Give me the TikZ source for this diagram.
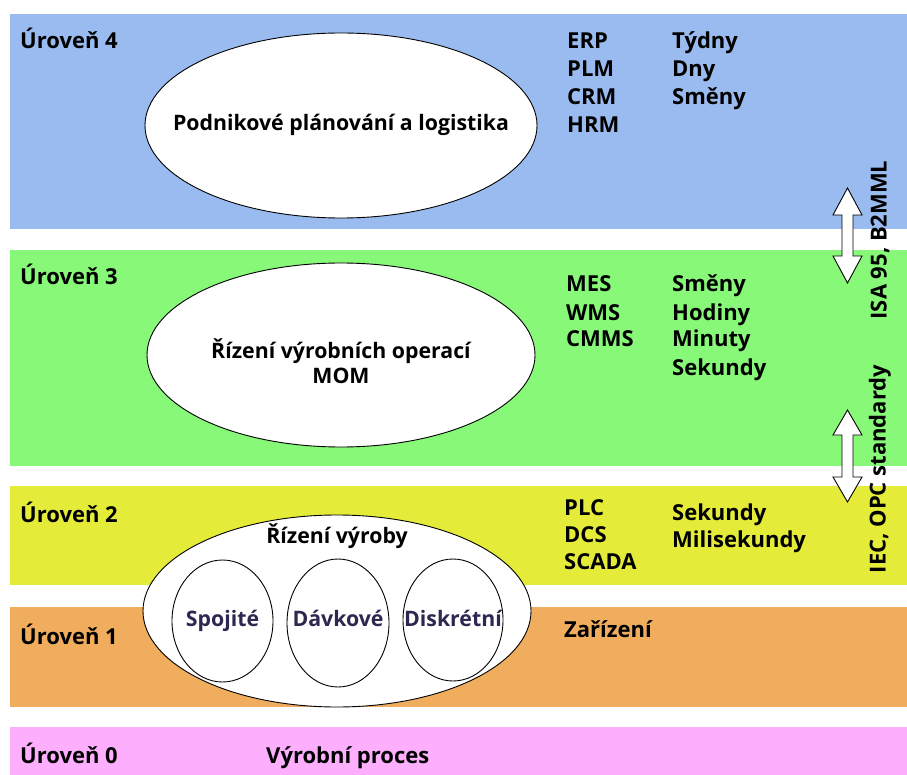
\documentclass[tikz,border=0pt]{standalone}
\usepackage{fontspec}
\setmainfont{Open Sans}
\begin{document}
\definecolor{lvfour}{RGB}{154,187,239}
\definecolor{lvthree}{RGB}{136,248,120}
\definecolor{lvtwo}{RGB}{229,235,57}
\definecolor{lvone}{RGB}{240,173,94}
\definecolor{lvzero}{RGB}{253,174,253}
\definecolor{innertext}{RGB}{46,39,80}
\begin{tikzpicture}[x=1pt,y=-1pt,
  lbl/.style={anchor=base west,inner sep=0pt,font=\bfseries\fontsize{22}{27}\selectfont},
  oval/.style={draw=black,fill=white,line width=0.9pt},
  ovaltext/.style={align=center,inner sep=0pt,font=\bfseries\fontsize{21.3}{25}\selectfont},
  innerlbl/.style={anchor=base,inner sep=0pt,text=innertext,font=\bfseries\fontsize{21.3}{25}\selectfont},
  vlabel/.style={rotate=90,inner sep=0pt,font=\bfseries\fontsize{22}{26}\selectfont},
  blockarrow/.style={draw=black,fill=white,line width=0.9pt,line join=miter}]
\useasboundingbox (0,0) rectangle (907,775);

% level bands
\fill[lvfour]  (10,14)  rectangle (907,229);
\fill[lvthree] (10,250) rectangle (907,466);
\fill[lvtwo]   (10,486) rectangle (907,585);
\fill[lvone]   (10,607) rectangle (907,707);
\fill[lvzero]  (10,727) rectangle (907,775);

% level names
\node[lbl] (u4) at (20,49)  {Úroveň 4};
\node[lbl] (u3) at (20,285) {Úroveň 3};
\node[lbl] (u2) at (20,522) {Úroveň 2};
\node[lbl] (u1) at (20,644) {Úroveň 1};
\node[lbl] (u0) at (20,763) {Úroveň 0};

% level 4
\draw[oval] (341,125.5) ellipse [x radius=196, y radius=92.5];
\node[ovaltext] (plan) at (341,125) {Podnikové plánování a logistika};
\node[lbl] (erp) at (567,49)  {ERP};
\node[lbl] (plm) at (567,77)  {PLM};
\node[lbl] (crm) at (567,105) {CRM};
\node[lbl] (hrm) at (567,133) {HRM};
\node[lbl] (tydny)  at (672,49)  {Týdny};
\node[lbl] (dny)    at (672,77)  {Dny};
\node[lbl] (smeny4) at (672,105) {Směny};

% level 3
\draw[oval] (341,355) ellipse [x radius=194, y radius=92];
\node[ovaltext] (mom) at (341,361) {Řízení výrobních operací\\MOM};
\node[lbl] (mes)  at (566,292) {MES};
\node[lbl] (wms)  at (566,320) {WMS};
\node[lbl] (cmms) at (566,347) {CMMS};
\node[lbl] (smeny3)  at (672,292) {Směny};
\node[lbl] (hodiny)  at (672,320) {Hodiny};
\node[lbl] (minuty)  at (672,347) {Minuty};
\node[lbl] (sek3)    at (672,375) {Sekundy};

% level 2
\node[lbl] (plc)   at (564,515) {PLC};
\node[lbl] (dcs)   at (564,542) {DCS};
\node[lbl] (scada) at (564,569) {SCADA};
\node[lbl] (sek2)  at (672,520) {Sekundy};
\node[lbl] (milis) at (672,547) {Milisekundy};

% level 1
\node[lbl] (zar) at (564,637) {Zařízení};

% level 0
\node[lbl] (proc) at (266,763) {Výrobní proces};

% production control oval spanning levels 2 and 1
\draw[oval] (337,611) ellipse [x radius=194, y radius=96];
\begin{scope}
  \clip (337,611) ellipse [x radius=194, y radius=96];
  \draw[line width=0.9pt] (222.5,621) ellipse [x radius=50.5, y radius=61];
  \draw[line width=0.9pt] (338,623) ellipse [x radius=51, y radius=64];
  \draw[line width=0.9pt] (453,620) ellipse [x radius=50, y radius=61];
\end{scope}
\node[ovaltext,anchor=base] (rv) at (337,543) {Řízení výroby};
\node[innerlbl] (spoj) at (222.5,626) {Spojité};
\node[innerlbl] (davk) at (338,626) {Dávkové};
\node[innerlbl] (disk) at (453,626) {Diskrétní};

% interface arrows between levels
\foreach \cx/\ta/\tb/\hl in {847.5/188/283/27, 847.5/410/502/25}{
  \draw[blockarrow]
    (\cx,\ta) -- (\cx+14.5,\ta+\hl) -- (\cx+5.5,\ta+\hl) -- (\cx+5.5,\tb-\hl)
    -- (\cx+14.5,\tb-\hl) -- (\cx,\tb) -- (\cx-14.5,\tb-\hl) -- (\cx-5.5,\tb-\hl)
    -- (\cx-5.5,\ta+\hl) -- (\cx-14.5,\ta+\hl) -- cycle;
}
\node[vlabel] (isa) at (880,240) {ISA 95, B2MML};
\node[vlabel] (iec) at (880,469) {IEC, OPC standardy};
\end{tikzpicture}
\end{document}
